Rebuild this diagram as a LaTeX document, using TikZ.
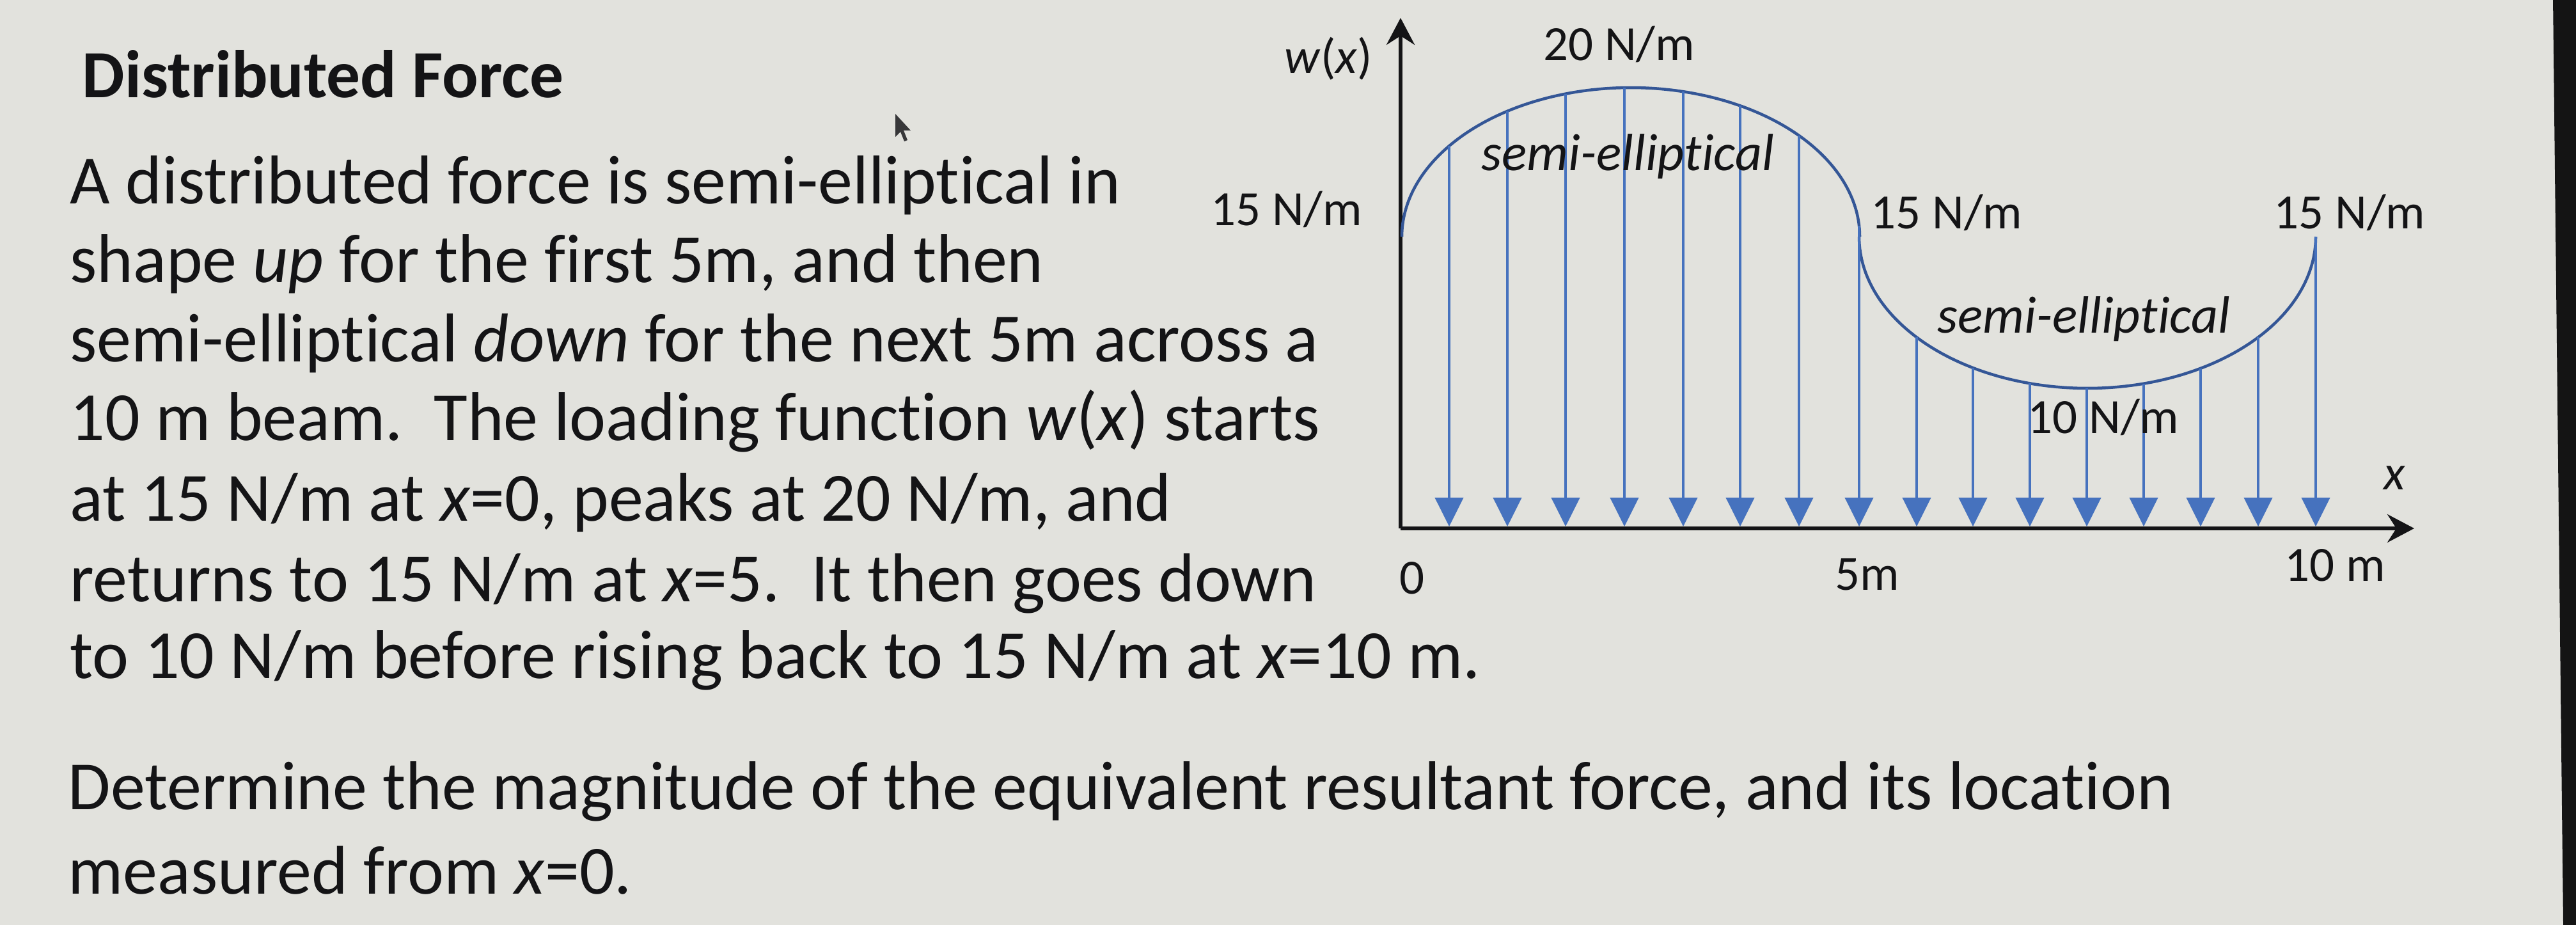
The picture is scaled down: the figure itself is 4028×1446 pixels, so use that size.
\documentclass[tikz,border=0pt]{standalone}
\usepackage{fontspec}
\setmainfont{Carlito}[Ligatures={CommonOff,ContextualOff}]
\usetikzlibrary{arrows.meta}
\definecolor{bg}{RGB}{226,226,221}
\definecolor{loadblue}{RGB}{70,114,190}
\definecolor{curveblue}{RGB}{52,86,150}
\definecolor{ink}{RGB}{20,20,22}
\tikzset{
  body/.style={anchor=base west, inner sep=0pt, text=ink, font=\fontsize{30.7pt}{36pt}\selectfont},
  titlefont/.style={anchor=base west, inner sep=0pt, text=ink, font=\bfseries\fontsize{30pt}{35pt}\selectfont},
  lab/.style={anchor=base west, inner sep=0pt, text=ink, font=\fontsize{21.9pt}{26pt}\selectfont},
  itlab/.style={anchor=base west, inner sep=0pt, text=ink, font=\itshape\fontsize{23.3pt}{27pt}\selectfont},
  axisline/.style={ink, line width=0.55mm, -{Stealth[length=4.2mm, width=4.4mm, inset=1.4mm]}},
  load/.style={loadblue, line width=0.42mm, -{Triangle[length=4.5mm, width=4.4mm]}},
  curve/.style={curveblue, line width=0.45mm},
}
\begin{document}
\begin{tikzpicture}[x=0.01cm, y=-0.01cm]
\useasboundingbox (0,0) rectangle (4028,1446);
\fill[bg] (0,0) rectangle (4028,1446);
\fill[black!92] (3992,0) -- (4028,0) -- (4028,1446) -- (4008,1446) -- cycle;

% text
\node[titlefont] (title) at (128,153) {Distributed Force};
\node[body] (l1) at (109,319) {A distributed force is semi-elliptical in};
\node[body] (l2) at (109,442) {shape \textit{up} for the first 5m, and then};
\node[body] (l3) at (109,565) {semi-elliptical \textit{down} for the next 5m across a};
\node[body] (l4) at (109,688) {10 m beam.\ \ The loading function \textit{w}(\textit{x}) starts};
\node[body] (l5) at (109,814) {at 15 N/m at \textit{x}=0, peaks at 20 N/m, and};
\node[body] (l6) at (109,940) {returns to 15 N/m at \textit{x}=5.\ \ It then goes down};
\node[body] (l7) at (109,1060) {to 10 N/m before rising back to 15 N/m at \textit{x}=10 m.};
\node[body] (q1) at (106,1265) {Determine the magnitude of the equivalent resultant force, and its location};
\node[body] (q2) at (106,1397) {measured from \textit{x}=0.};

% mouse cursor
\fill[ink!85] (1400,178) -- (1400,214) -- (1408,206) -- (1414,221) -- (1419,219) -- (1413,204) -- (1424,204) -- cycle;

% axes
\coordinate (O) at (2190,826);
\coordinate (ytop) at (2190,28);
\coordinate (xend) at (3775,826);
\draw[axisline] (O) -- (ytop);
\draw[axisline] (O) -- (xend);

% load curves
\draw[curve] plot[domain=180:360, samples=120, smooth] ({2550+358*cos(\x)}, {370+233*sin(\x)});
\draw[curve] plot[domain=180:0, samples=120, smooth] ({3264+357*cos(\x)}, {370+237*sin(\x)});

% load arrows
\foreach \ax [count=\i] in {2266,2357,2448,2540,2632,2721,2813,2907} {
  \pgfmathsetmacro\yt{370-233*sqrt(max(0,1-((\ax-2550)/358)^2))}
  \coordinate (t\i) at (\ax,\yt);
  \coordinate (b\i) at (\ax,823);
  \draw[load] (t\i) -- (b\i);
}
\foreach \ax [count=\i from 9] in {2997,3085,3174,3263,3352,3441,3531,3621} {
  \pgfmathsetmacro\yt{370+237*sqrt(max(0,1-((\ax-3264)/357)^2))}
  \coordinate (t\i) at (\ax,\yt);
  \coordinate (b\i) at (\ax,823);
  \draw[load] (t\i) -- (b\i);
}

% diagram labels
\node[lab] (wx) at (2008,115) {\textit{w}(\textit{x})};
\node[lab] (f15a) at (1893,353) {15 N/m};
\node[lab] (f20) at (2413,95) {20 N/m};
\node[itlab] (se1) at (2316,267) {semi-elliptical};
\node[lab] (f15b) at (2925,357) {15 N/m};
\node[lab] (f15c) at (3555,358) {15 N/m};
\node[itlab] (se2) at (3029,520) {semi-elliptical};
\node[lab] (f10) at (3170,677) {10 N/m};
\node[lab] (xl) at (3727,765) {\textit{x}};
\node[lab] (z0) at (2188,928) {0};
\node[lab] (m5) at (2869,922) {5m};
\node[lab] (m10) at (3572,908) {10 m};
\end{tikzpicture}
\end{document}
